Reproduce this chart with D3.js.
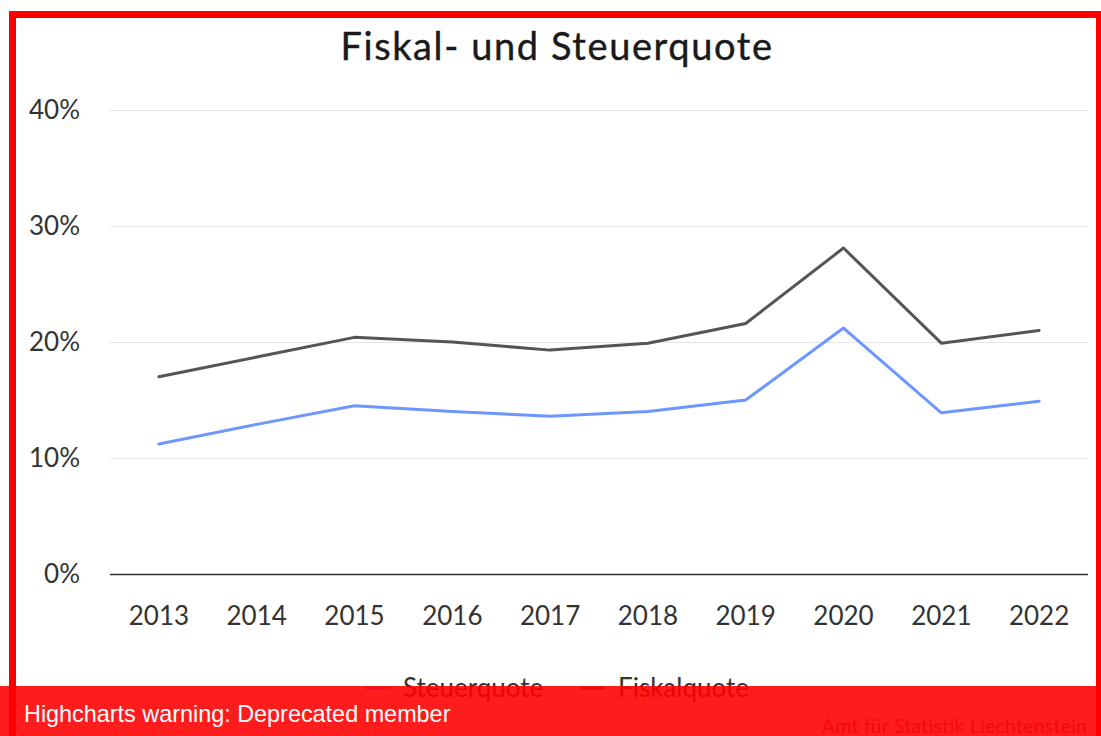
<!DOCTYPE html>
<html>
<head>
<meta charset="utf-8">
<script src="https://d3js.org/d3.v7.min.js"></script>
<style>
  body { margin: 0; background: #fff; }
  svg { display: block; font-family: Lato, "Noto Sans", sans-serif; }
</style>
</head>
<body>
<script>
// values, in percent
var years = ["2013", "2014", "2015", "2016", "2017", "2018", "2019", "2020", "2021", "2022"];
var steuerquote = [11.2, 12.9, 14.5, 14.0, 13.6, 14.0, 15.0, 21.2, 13.9, 14.9];
var fiskalquote = [17.0, 18.7, 20.4, 20.0, 19.3, 19.9, 21.6, 28.1, 19.9, 21.0];
var yTicks = [0, 10, 20, 30, 40];
var seriesNames = ["Steuerquote", "Fiskalquote"];
var seriesColors = ["#6d96ff", "#555555"];

var W = 1101, H = 736;
var margin = {top: 110, right: 13, bottom: 162, left: 110};

var svg = d3.select("body").append("svg")
    .attr("width", W)
    .attr("height", H);

var x = d3.scaleBand()
    .domain(years)
    .range([margin.left, W - margin.right]);

var y = d3.scaleLinear()
    .domain([0, 40])
    .range([H - margin.bottom, margin.top]);

// title
svg.append("text")
    .attr("x", 557)
    .attr("y", 60)
    .attr("text-anchor", "middle")
    .attr("font-size", 38)
    .attr("letter-spacing", 1.6)
    .attr("fill", "#1a1a1a")
    .attr("stroke", "#1a1a1a")
    .attr("stroke-width", 0.4)
    .text("Fiskal- und Steuerquote");

// grid + y labels
var yAxis = svg.append("g")
    .attr("transform", "translate(" + margin.left + ",0)")
    .call(d3.axisLeft(y).tickValues(yTicks)
        .tickSize(-(W - margin.left - margin.right))
        .tickPadding(30)
        .tickFormat(function(d) { return d + "%"; }));
yAxis.select(".domain").remove();
yAxis.selectAll(".tick line")
    .attr("stroke", function(d) { return d === 0 ? "#333" : "#e6e6e6"; })
    .attr("stroke-width", function(d) { return d === 0 ? 1.3 : 1; });
yAxis.selectAll(".tick text")
    .attr("font-size", 26)
    .attr("fill", "#333")
    .attr("font-family", "Lato, sans-serif");

// x labels
var xAxis = svg.append("g")
    .attr("transform", "translate(0," + y(0) + ")")
    .call(d3.axisBottom(x).tickSize(0).tickPadding(33));
xAxis.select(".domain").remove();
xAxis.selectAll(".tick text")
    .attr("font-size", 26)
    .attr("fill", "#333")
    .attr("font-family", "Lato, sans-serif");

// lines
var line = d3.line()
    .x(function(d, i) { return x(years[i]) + x.bandwidth() / 2; })
    .y(function(d) { return y(d); });

[steuerquote, fiskalquote].forEach(function(s, i) {
  svg.append("path")
      .datum(s)
      .attr("fill", "none")
      .attr("stroke", seriesColors[i])
      .attr("stroke-width", 3)
      .attr("stroke-linejoin", "round")
      .attr("stroke-linecap", "round")
      .attr("d", line);
});

// legend
var legendX = [365, 580];
seriesNames.forEach(function(n, i) {
  var g = svg.append("g").attr("transform", "translate(" + legendX[i] + ",688)");
  g.append("line")
      .attr("x1", 0).attr("x2", 25)
      .attr("stroke", seriesColors[i])
      .attr("stroke-width", 3);
  g.append("text")
      .attr("x", 38)
      .attr("y", 9)
      .attr("font-size", 26)
      .attr("fill", "#333")
      .text(n);
});

// credits
svg.append("text")
    .attr("x", 1087)
    .attr("y", 733)
    .attr("text-anchor", "end")
    .attr("font-size", 20)
    .attr("fill", "#666")
    .text("Amt für Statistik Liechtenstein");

// warning bar over the bottom
svg.append("rect")
    .attr("x", 0).attr("y", 686)
    .attr("width", W).attr("height", H - 686)
    .attr("fill", "#ff0000")
    .attr("fill-opacity", 0.89);

svg.append("text")
    .attr("x", 24)
    .attr("y", 722)
    .attr("font-size", 23.4)
    .attr("fill", "#fff")
    .attr("font-family", "'Liberation Sans Narrow', 'Arial Narrow', sans-serif")
    .text("Highcharts warning: Deprecated member");

// red frame
svg.append("path")
    .attr("d", "M12.5," + H + " V14.5 H1099.5 V" + H)
    .attr("fill", "none")
    .attr("stroke", "#ff0000")
    .attr("stroke-width", 7);
</script>
</body>
</html>
